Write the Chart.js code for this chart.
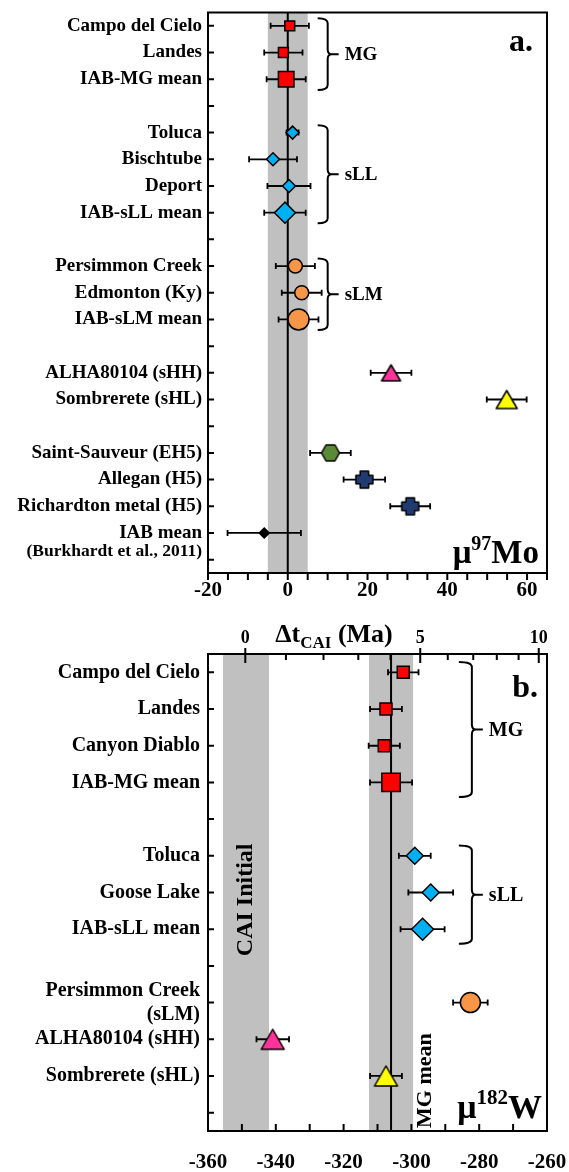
<!DOCTYPE html>
<html>
<head>
<meta charset="utf-8">
<script src="https://cdn.jsdelivr.net/npm/chart.js@4.4.1/dist/chart.umd.min.js"></script>
<style>
  html, body { margin: 0; padding: 0; background: #fff; }
  canvas { position: absolute; left: 0; }
  #moChart { top: 0; }
  #wChart { top: 600px; }
</style>
</head>
<body>
<canvas id="moChart" width="569" height="610"></canvas>
<canvas id="wChart" width="569" height="572"></canvas>
<script>
const SERIF = "'Liberation Serif', 'Times New Roman', serif";

// ---- panel a: mu 97Mo ----
const moLabels = ['Campo del Cielo', 'Landes', 'IAB-MG mean', '', 'Toluca', 'Bischtube', 'Deport', 'IAB-sLL mean', '',
  'Persimmon Creek', 'Edmonton (Ky)', 'IAB-sLM mean', '', 'ALHA80104 (sHH)', 'Sombrerete (sHL)', '',
  'Saint-Sauveur (EH5)', 'Allegan (H5)', 'Richardton metal (H5)', 'IAB mean', ''];
const moValues = [0.5, -1.1, -0.4, null, 1.2, -3.7, 0.3, -0.7, null, 1.9, 3.5, 2.7, null, 25.9, 54.9, null, 10.7, 19.2, 30.7, -5.9, null];
const moErrors = [4.8, 4.8, 4.9, null, 1.5, 6.0, 5.4, 5.2, null, 4.9, 5.0, 5.0, null, 5.1, 5.0, null, 5.1, 5.2, 5.0, 9.2, null];
const moGroups = ['MG', 'MG', 'MG mean', null, 'sLL', 'sLL', 'sLL', 'sLL mean', null, 'sLM', 'sLM', 'sLM mean', null,
  'sHH', 'sHL', null, 'EH5', 'H5', 'H5', 'IAB', null];
const moNote = { row: 19, text: '(Burkhardt et al., 2011)' };
const moBand = [-5, 5];
const moZero = 0;
const moBraces = [{ first: 0, last: 2, text: 'MG' }, { first: 4, last: 7, text: 'sLL' }, { first: 9, last: 11, text: 'sLM' }];

// ---- panel b: mu 182W ----
const wLabels = ['Campo del Cielo', 'Landes', 'Canyon Diablo', 'IAB-MG mean', '', 'Toluca', 'Goose Lake', 'IAB-sLL mean', '',
  ['Persimmon Creek', '(sLM)'], 'ALHA80104 (sHH)', 'Sombrerete (sHL)', ''];
const wValues = [-302.4, -307.5, -308.0, -306.0, null, -299.0, -294.3, -296.7, null, -282.6, -340.9, -307.5, null];
const wErrors = [4.5, 4.7, 4.6, 6.2, null, 4.7, 6.6, 6.5, null, 5.1, 4.8, 4.7, null];
const wGroups = ['MG', 'MG', 'MG', 'MG mean', null, 'sLL', 'sLL', 'sLL mean', null, 'sLM', 'sHH', 'sHL', null];
const wCaiBand = [-355.6, -342];
const wMgBand = [-312.5, -299.5];
const wMgMean = -306;
const wBraces = [{ first: 0, last: 3, text: 'MG' }, { first: 5, last: 7, text: 'sLL' }];

// top axis of panel b: time after CAI (Ma)
const dtTicks = [0, 1, 2, 3, 4, 5, 6, 7, 8, 9, 10];
const dtMajor = [0, 5, 10];
const hfHalfLife = 8.9;
const muCaiInitial = -349;
const muDecaySpan = 160;
const muAtTime = t => muCaiInitial + muDecaySpan * (1 - Math.pow(0.5, t / hfHalfLife));

Chart.defaults.color = '#000';
Chart.defaults.font.family = SERIF;

// marker shapes that chart.js has no style for
function shapeImage(w, h, fill, path) {
  const c = document.createElement('canvas');
  c.width = Math.ceil(w) + 4;
  c.height = Math.ceil(h) + 4;
  const g = c.getContext('2d');
  g.translate(c.width / 2, c.height / 2);
  g.beginPath();
  path(g, w / 2, h / 2);
  g.closePath();
  g.fillStyle = fill;
  g.fill();
  g.lineWidth = 1.5;
  g.lineJoin = 'round';
  g.strokeStyle = '#000';
  g.stroke();
  return c;
}
const triangle = (g, a, b) => { g.moveTo(0, -b); g.lineTo(a, b); g.lineTo(-a, b); };
const hexagon = (g, a, b) => {
  g.moveTo(-a, 0); g.lineTo(-a / 2, -b); g.lineTo(a / 2, -b);
  g.lineTo(a, 0); g.lineTo(a / 2, b); g.lineTo(-a / 2, b);
};
const fatPlus = (g, a, b) => {
  const k = a * 0.5;
  g.moveTo(-k, -b); g.lineTo(k, -b); g.lineTo(k, -k); g.lineTo(a, -k); g.lineTo(a, k); g.lineTo(k, k);
  g.lineTo(k, b); g.lineTo(-k, b); g.lineTo(-k, k); g.lineTo(-a, k); g.lineTo(-a, -k); g.lineTo(-k, -k);
};

const moMarks = {
  'MG': { style: 'rect', r: 7, fill: '#ff0000' },
  'MG mean': { style: 'rect', r: 11, fill: '#ff0000' },
  'sLL': { style: 'rectRot', r: 6.5, fill: '#00b0f0' },
  'sLL mean': { style: 'rectRot', r: 10.5, fill: '#00b0f0' },
  'sLM': { style: 'circle', r: 7, fill: '#f79646' },
  'sLM mean': { style: 'circle', r: 10.5, fill: '#f79646' },
  'sHH': { style: shapeImage(19, 16, '#ff3399', triangle), r: 9 },
  'sHL': { style: shapeImage(21, 18, '#ffff00', triangle), r: 9 },
  'EH5': { style: shapeImage(18, 16, '#5b8a36', hexagon), r: 9 },
  'H5': { style: shapeImage(17, 17, '#1f3b6f', fatPlus), r: 9 },
  'IAB': { style: 'rectRot', r: 5, fill: '#000000' }
};
const wMarks = {
  'MG': { style: 'rect', r: 8.5, fill: '#ff0000' },
  'MG mean': { style: 'rect', r: 13, fill: '#ff0000' },
  'sLL': { style: 'rectRot', r: 8.5, fill: '#00b0f0' },
  'sLL mean': { style: 'rectRot', r: 11, fill: '#00b0f0' },
  'sLM': { style: 'circle', r: 10, fill: '#f79646' },
  'sHH': { style: shapeImage(23, 20, '#ff3399', triangle), r: 9 },
  'sHL': { style: shapeImage(23, 20, '#ffff00', triangle), r: 9 }
};

function makeSets(values, errors, groups, marks) {
  const names = [...new Set(groups.filter(Boolean))];
  return names.map(name => {
    const m = marks[name];
    const data = [];
    groups.forEach((g, i) => { if (g === name) data.push({ x: values[i], y: i, e: errors[i] }); });
    return {
      label: name, data,
      pointStyle: m.style, pointRadius: m.r,
      pointBackgroundColor: m.fill || '#000', pointBorderColor: '#000', pointBorderWidth: 1.5
    };
  });
}

function richText(ctx, parts, x, y, align) {
  let w = 0;
  parts.forEach(p => { ctx.font = `bold ${p.size}px ${SERIF}`; w += ctx.measureText(p.t).width; });
  let cx = align === 'right' ? x - w : align === 'center' ? x - w / 2 : x;
  ctx.textAlign = 'left';
  ctx.textBaseline = 'alphabetic';
  parts.forEach(p => {
    ctx.font = `bold ${p.size}px ${SERIF}`;
    ctx.fillText(p.t, cx, y + (p.dy || 0));
    cx += ctx.measureText(p.t).width;
  });
}

function drawBrace(ctx, x0, y1, y2, g) {
  const ym = (y1 + y2) / 2, xs = x0 + g.spine, xt = x0 + g.tip, r = 5;
  ctx.beginPath();
  ctx.moveTo(x0, y1);
  ctx.quadraticCurveTo(xs, y1, xs, y1 + r);
  ctx.lineTo(xs, ym - r);
  ctx.quadraticCurveTo(xs, ym, xt, ym);
  ctx.quadraticCurveTo(xs, ym, xs, ym + r);
  ctx.lineTo(xs, y2 - r);
  ctx.quadraticCurveTo(xs, y2, x0, y2);
  ctx.moveTo(xt, ym);
  ctx.lineTo(x0 + g.stub, ym);
  ctx.stroke();
}

function decorations(cfg) {
  return {
    id: 'decorations',
    beforeDatasetsDraw(chart) {
      const { ctx, chartArea: a, scales: { x, y } } = chart;
      ctx.save();
      ctx.fillStyle = '#c0c0c0';
      cfg.bands.forEach(([lo, hi]) => {
        const l = x.getPixelForValue(lo), r = x.getPixelForValue(hi);
        ctx.fillRect(l, a.top, r - l, a.bottom - a.top);
      });
      ctx.strokeStyle = '#000';
      ctx.lineWidth = 2;
      const xr = x.getPixelForValue(cfg.refLine);
      ctx.beginPath(); ctx.moveTo(xr, a.top); ctx.lineTo(xr, a.bottom); ctx.stroke();
      // error bars with caps
      ctx.lineWidth = 1.8;
      chart.data.datasets.forEach(ds => ds.data.forEach(p => {
        const yy = y.getPixelForValue(p.y);
        const x1 = x.getPixelForValue(p.x - p.e), x2 = x.getPixelForValue(p.x + p.e);
        ctx.beginPath();
        ctx.moveTo(x1, yy); ctx.lineTo(x2, yy);
        ctx.moveTo(x1, yy - 3); ctx.lineTo(x1, yy + 3);
        ctx.moveTo(x2, yy - 3); ctx.lineTo(x2, yy + 3);
        ctx.stroke();
      }));
      ctx.restore();
    },
    afterDraw(chart) {
      const { ctx, chartArea: a, scales } = chart;
      ctx.save();
      ctx.strokeStyle = '#000';
      ctx.fillStyle = '#000';
      ctx.lineWidth = 2;
      ctx.strokeRect(a.left, a.top, a.right - a.left, a.bottom - a.top);
      ctx.beginPath();
      cfg.labels.forEach((_, i) => {
        const yy = scales.y.getPixelForValue(i);
        ctx.moveTo(a.left, yy); ctx.lineTo(a.left + 6, yy);
      });
      scales.x.ticks.forEach(t => {
        const xx = scales.x.getPixelForValue(t.value);
        ctx.moveTo(xx, a.bottom); ctx.lineTo(xx, a.bottom + cfg.xTick);
      });
      ctx.stroke();
      // group braces
      ctx.font = `bold ${cfg.braceFont}px ${SERIF}`;
      ctx.textAlign = 'left';
      ctx.textBaseline = 'middle';
      const bx = scales.x.getPixelForValue(cfg.braceAt);
      cfg.braces.forEach(b => {
        const y1 = scales.y.getPixelForValue(b.first - 0.28);
        const y2 = scales.y.getPixelForValue(b.last + 0.4);
        drawBrace(ctx, bx, y1, y2, cfg.braceShape);
        ctx.fillText(b.text, bx + cfg.braceShape.text, (y1 + y2) / 2 + 1);
      });
      cfg.extra(ctx, chart);
      ctx.restore();
    }
  };
}

const tickFont = size => ({ family: SERIF, size, weight: 'bold' });
const noGrid = { display: false, drawTicks: false };

// ---------- chart a ----------
new Chart(document.getElementById('moChart'), {
  type: 'scatter',
  data: { datasets: makeSets(moValues, moErrors, moGroups, moMarks) },
  options: {
    responsive: false,
    animation: false,
    events: [],
    layout: { padding: { top: 7, right: 22, left: 0, bottom: 0 } },
    plugins: { legend: { display: false }, tooltip: { enabled: false } },
    scales: {
      x: {
        type: 'linear', min: -20, max: 65,
        grid: noGrid, border: { display: false },
        ticks: { stepSize: 5, autoSkip: false, maxRotation: 0, padding: 5, font: tickFont(21),
          callback: v => (v % 20 === 0 ? v : '') },
        afterFit: s => { s.height = 37; s.paddingLeft = 0; s.paddingRight = 0; }
      },
      y: {
        type: 'linear', reverse: true, min: -0.5, max: moLabels.length - 0.5,
        grid: noGrid, border: { display: false },
        afterBuildTicks: s => {
          s.ticks = moLabels.map((_, i) => ({ value: i })).concat([{ value: moNote.row + 0.7 }]);
        },
        ticks: {
          autoSkip: false, padding: 6,
          font: c => tickFont(c.tick && !Number.isInteger(c.tick.value) ? 17.5 : 19),
          callback: v => (Number.isInteger(v) ? moLabels[v] : moNote.text)
        },
        afterFit: s => { s.width = 208; s.paddingTop = 0; s.paddingBottom = 0; }
      }
    }
  },
  plugins: [decorations({
    labels: moLabels, bands: [moBand], refLine: moZero, xTick: 7,
    braces: moBraces, braceAt: 7.5, braceFont: 19,
    braceShape: { spine: 10, tip: 14, stub: 21, text: 27 },
    extra(ctx, chart) {
      const a = chart.chartArea;
      richText(ctx, [{ t: 'a.', size: 32 }], a.right - 14, a.top + 38, 'right');
      richText(ctx, [{ t: 'μ', size: 33 }, { t: '97', size: 20, dy: -13 }, { t: 'Mo', size: 33 }], a.right - 8, a.bottom - 10, 'right');
    }
  })]
});

// ---------- chart b ----------
new Chart(document.getElementById('wChart'), {
  type: 'scatter',
  data: { datasets: makeSets(wValues, wErrors, wGroups, wMarks) },
  options: {
    responsive: false,
    animation: false,
    events: [],
    layout: { padding: { top: 0, right: 22, left: 0, bottom: 0 } },
    plugins: { legend: { display: false }, tooltip: { enabled: false } },
    scales: {
      x: {
        type: 'linear', position: 'bottom', min: -360, max: -260,
        grid: noGrid, border: { display: false },
        ticks: { stepSize: 10, autoSkip: false, maxRotation: 0, padding: 19, font: tickFont(21),
          callback: v => (v % 20 === 0 ? v : '') },
        afterFit: s => { s.height = 41; s.paddingLeft = 0; s.paddingRight = 0; }
      },
      x2: {
        type: 'linear', position: 'top', min: -360, max: -260,
        grid: noGrid, border: { display: false },
        afterBuildTicks: s => { s.ticks = dtTicks.map(t => ({ value: muAtTime(t) })); },
        ticks: { autoSkip: false, maxRotation: 0, padding: 5, font: tickFont(18),
          callback: (v, i) => (dtMajor.includes(dtTicks[i]) ? String(dtTicks[i]) : '') },
        afterFit: s => { s.height = 54; s.paddingLeft = 0; s.paddingRight = 0; }
      },
      y: {
        type: 'linear', reverse: true, min: -0.5, max: wLabels.length - 0.5,
        grid: noGrid, border: { display: false },
        afterBuildTicks: s => { s.ticks = wLabels.map((_, i) => ({ value: i })); },
        ticks: { autoSkip: false, padding: 8, font: tickFont(20), callback: v => wLabels[v] },
        afterFit: s => { s.width = 208; s.paddingTop = 0; s.paddingBottom = 0; }
      }
    }
  },
  plugins: [decorations({
    labels: wLabels, bands: [wCaiBand, wMgBand], refLine: wMgMean, xTick: -7,
    braces: wBraces, braceAt: -286, braceFont: 20,
    braceShape: { spine: 13, tip: 17, stub: 24, text: 30 },
    extra(ctx, chart) {
      const a = chart.chartArea, x = chart.scales.x, x2 = chart.scales.x2, y = chart.scales.y;
      // top time axis ticks: minor inward, major across the axis
      ctx.beginPath();
      x2.ticks.forEach((t, i) => {
        const xx = x2.getPixelForValue(t.value);
        const major = dtMajor.includes(dtTicks[i]);
        ctx.moveTo(xx, major ? a.top - 6 : a.top);
        ctx.lineTo(xx, a.top + (major ? 9 : 6));
      });
      ctx.stroke();
      richText(ctx, [{ t: 'Δt', size: 26 }, { t: 'CAI', size: 17, dy: 6 }, { t: ' (Ma)', size: 26 }], 334, 42, 'center');
      richText(ctx, [{ t: 'b.', size: 32 }], a.right - 9, a.top + 43, 'right');
      richText(ctx, [{ t: 'μ', size: 34 }, { t: '182', size: 21, dy: -14 }, { t: 'W', size: 34 }], a.right - 5, a.bottom - 13, 'right');
      // rotated band captions
      ctx.save();
      ctx.translate(x.getPixelForValue((wCaiBand[0] + wCaiBand[1]) / 2), y.getPixelForValue(6.2));
      ctx.rotate(-Math.PI / 2);
      ctx.font = `bold 24px ${SERIF}`;
      ctx.textAlign = 'center';
      ctx.textBaseline = 'middle';
      ctx.fillText('CAI Initial', 0, 0);
      ctx.restore();
      ctx.save();
      ctx.translate(x.getPixelForValue(wMgBand[1]) + 12, a.bottom - 3);
      ctx.rotate(-Math.PI / 2);
      ctx.font = `bold 22px ${SERIF}`;
      ctx.textAlign = 'left';
      ctx.textBaseline = 'middle';
      ctx.fillText('MG mean', 0, 0);
      ctx.restore();
    }
  })]
});
</script>
</body>
</html>
